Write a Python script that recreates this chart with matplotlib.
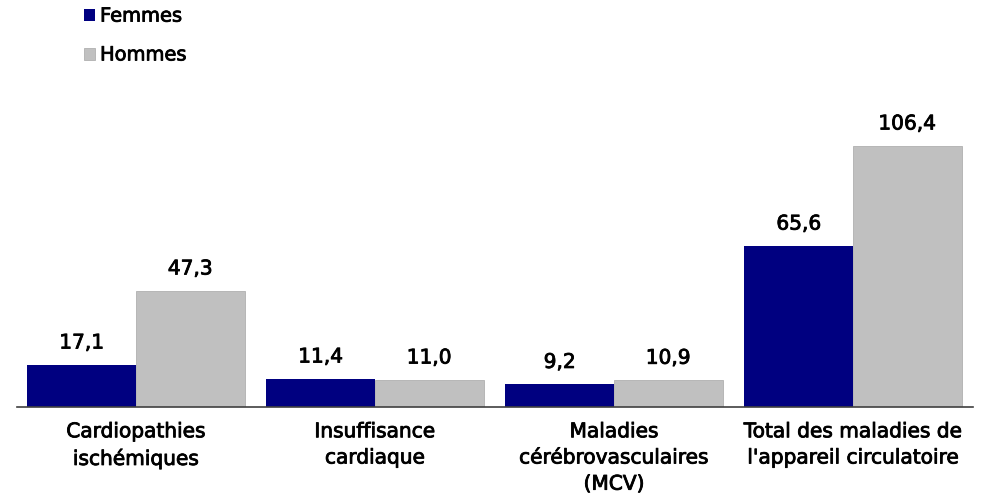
import matplotlib.pyplot as plt
import matplotlib.patheffects as pe
import numpy as np

plt.rcParams['font.family'] = ['DejaVu Sans']

# Catégories et valeurs
categories = ["Cardiopathies\nischémiques", "Insuffisance\ncardiaque",
              "Maladies\ncérébrovasculaires\n(MCV)",
              "Total des maladies de\nl'appareil circulatoire"]
femmes = [17.1, 11.4, 9.2, 65.6]
hommes = [47.3, 11.0, 10.9, 106.4]

# trait un peu plus gras que le regular
epais = [pe.withStroke(linewidth=0.6, foreground="black")]

fig = plt.figure(figsize=(9.84, 4.96), dpi=100)
ax = fig.add_axes([16.5 / 984, 89 / 496, 956 / 984, 327 / 496])

x = np.arange(len(categories))
w = 0.454
b1 = ax.bar(x - w / 2, femmes, w, color="#000080", label="Femmes")
b2 = ax.bar(x + w / 2, hommes, w, color="#C0C0C0", edgecolor="#b0b0b0",
            linewidth=0.6, label="Hommes")

fmt = lambda v: f"{v:.1f}".replace(".", ",")
for bars, vals in [(b1, femmes), (b2, hommes)]:
    txts = ax.bar_label(bars, labels=[fmt(v) for v in vals], padding=9, fontsize=14.5)
    for t in txts:
        t.set_path_effects(epais)

ax.set_xlim(-0.5, 3.5)
ax.set_ylim(0, 133.3)
ax.set_xticks(x)
ax.set_xticklabels(categories, fontsize=14.5, va="top")
for t in ax.get_xticklabels():
    t.set_path_effects(epais)
    t.set_linespacing(1.48)
ax.tick_params(axis="x", length=0, pad=11)
ax.set_yticks([])
for s in ["top", "right", "left"]:
    ax.spines[s].set_visible(False)
ax.spines["bottom"].set_color("#404040")
ax.spines["bottom"].set_linewidth(1.2)

leg = fig.legend(handles=[b1, b2], loc="upper left", bbox_to_anchor=(66 / 984, 1.022),
                 frameon=False, fontsize=14, handlelength=0.57, handleheight=0.57,
                 handletextpad=0.28, labelspacing=1.02)
for t in leg.get_texts():
    t.set_path_effects(epais)

fig.savefig("out.png", dpi=100)
